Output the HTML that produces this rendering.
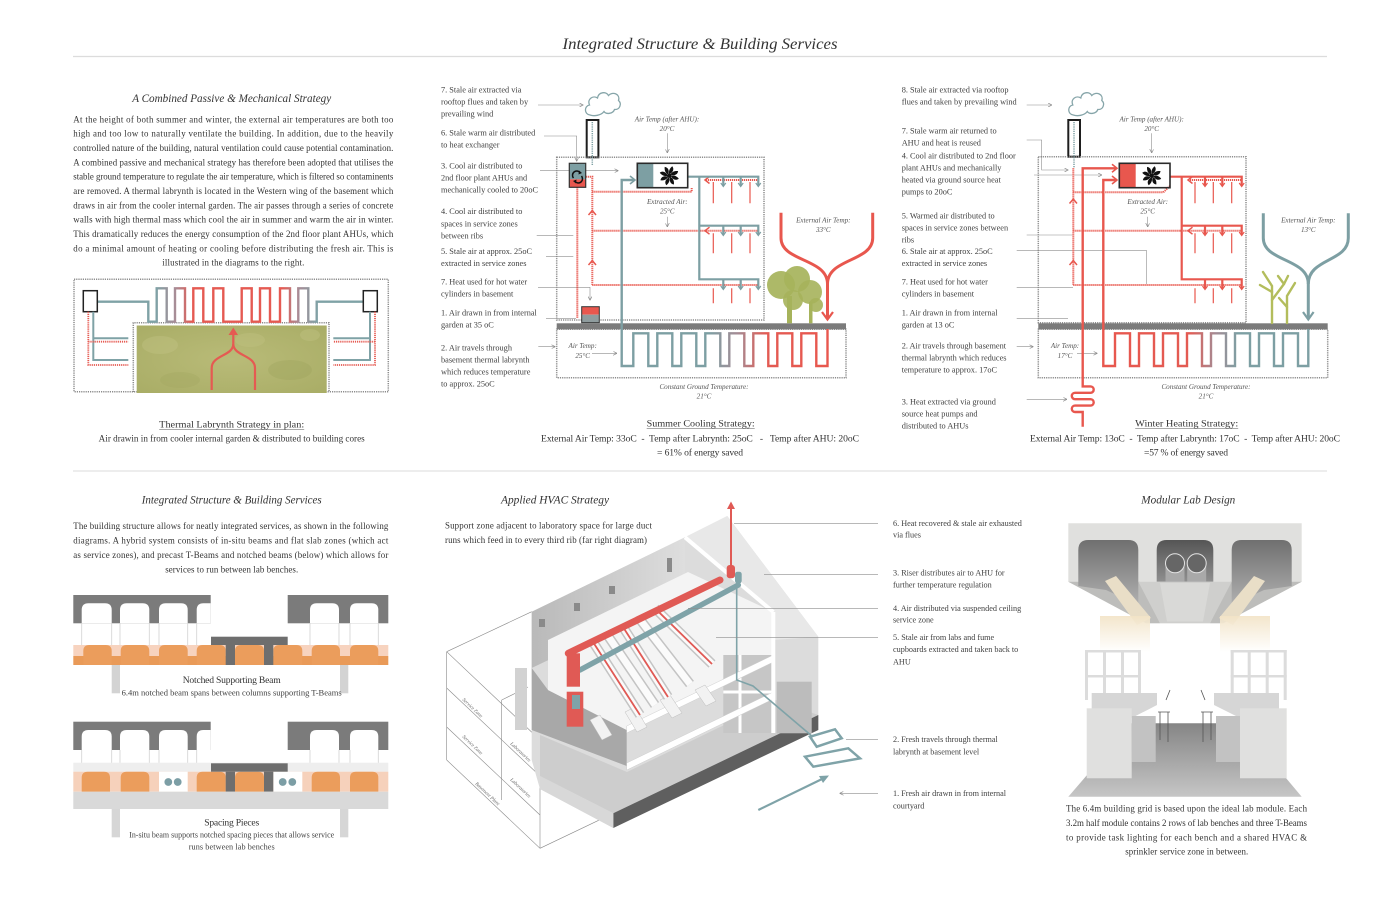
<!DOCTYPE html>
<html><head><meta charset="utf-8"><style>
html,body{margin:0;padding:0;background:#fff;}
svg{display:block;}
text{font-family:"Liberation Serif",serif;fill:#333;}
.h{font-size:11.5px;font-style:italic;fill:#333;}
.p{font-size:8.9px;}
.l{font-size:8.3px;fill:#3f3f3f;}
.t{font-size:7.1px;font-style:italic;fill:#555;}
.c{font-size:9.6px;fill:#333;}
.s{font-size:8.2px;fill:#3f3f3f;}
.w{font-size:5px;font-style:italic;fill:#666;}
</style></head><body>
<svg width="1400" height="900" viewBox="0 0 1400 900" xmlns="http://www.w3.org/2000/svg">
<defs>
<marker id="ag" viewBox="0 0 6 6" refX="5.5" refY="3" markerWidth="4" markerHeight="4" markerUnits="userSpaceOnUse" orient="auto"><path d="M0,0 L6,3 L0,6" fill="none" stroke="#888" stroke-width="1"/></marker>
<linearGradient id="gp" gradientUnits="userSpaceOnUse" x1="97" y1="0" x2="377" y2="0">
<stop offset="0" stop-color="#7fa2a6"/><stop offset="0.21" stop-color="#7fa2a6"/><stop offset="0.28" stop-color="#a88c96"/><stop offset="0.34" stop-color="#e55a52"/><stop offset="0.66" stop-color="#e55a52"/><stop offset="0.72" stop-color="#a88c96"/><stop offset="0.79" stop-color="#7fa2a6"/><stop offset="1" stop-color="#7fa2a6"/>
</linearGradient>
<linearGradient id="gs" gradientUnits="userSpaceOnUse" x1="622" y1="0" x2="828" y2="0">
<stop offset="0" stop-color="#7d9fa3"/><stop offset="0.42" stop-color="#7d9fa3"/><stop offset="0.56" stop-color="#a48c95"/><stop offset="0.7" stop-color="#e35b53"/><stop offset="1" stop-color="#e8574e"/>
</linearGradient>
<linearGradient id="gwn" gradientUnits="userSpaceOnUse" x1="1103" y1="0" x2="1308" y2="0">
<stop offset="0" stop-color="#e8574e"/><stop offset="0.42" stop-color="#e35b53"/><stop offset="0.55" stop-color="#a48c95"/><stop offset="0.66" stop-color="#7d9fa3"/><stop offset="1" stop-color="#7d9fa3"/>
</linearGradient>
<linearGradient id="gwall" x1="0" y1="0" x2="1" y2="0">
<stop offset="0" stop-color="#b9b9b9"/><stop offset="1" stop-color="#dedede"/>
</linearGradient>
<linearGradient id="garch" x1="0" y1="0" x2="0" y2="1">
<stop offset="0" stop-color="#6f6f6f"/><stop offset="1" stop-color="#b0b0b0"/>
</linearGradient>
<linearGradient id="garchc" x1="0" y1="0" x2="0" y2="1">
<stop offset="0" stop-color="#555"/><stop offset="1" stop-color="#8f8f8f"/>
</linearGradient>
<linearGradient id="gfloor" x1="0" y1="0" x2="0" y2="1">
<stop offset="0" stop-color="#858585"/><stop offset="1" stop-color="#c6c6c6"/>
</linearGradient>
<linearGradient id="gcone" x1="0" y1="0" x2="0" y2="1">
<stop offset="0" stop-color="#f2e3c6"/><stop offset="1" stop-color="#ffffff"/>
</linearGradient>
<radialGradient id="ggard" cx="0.5" cy="0.5" r="0.7">
<stop offset="0" stop-color="#b9bb78"/><stop offset="1" stop-color="#a9ad66"/>
</radialGradient>
</defs>

<!-- ===== TITLE ===== -->
<text x="700" y="49" text-anchor="middle" font-size="16" font-style="italic" fill="#444" textLength="275" lengthAdjust="spacingAndGlyphs">Integrated Structure &amp; Building Services</text>
<line x1="73" y1="56.5" x2="1327" y2="56.5" stroke="#dcdcdc" stroke-width="1.3"/>
<line x1="73" y1="471" x2="1327" y2="471" stroke="#e2e2e2" stroke-width="1.2"/>

<!-- ===== LEFT TOP TEXT ===== -->
<text class="h" x="231.7" y="102" text-anchor="middle" textLength="199" lengthAdjust="spacingAndGlyphs">A Combined Passive &amp; Mechanical Strategy</text>
<text class="p" x="73.3" y="122.3" textLength="320" lengthAdjust="spacing">At the height of both summer and winter, the external air temperatures are both too</text>
<text class="p" x="73.3" y="136.7" textLength="320" lengthAdjust="spacing">high and too low to naturally ventilate the building. In addition, due to the heavily</text>
<text class="p" x="73.3" y="151" textLength="320" lengthAdjust="spacing">controlled nature of the building, natural ventilation could cause potential contamination.</text>
<text class="p" x="73.3" y="165.3" textLength="320" lengthAdjust="spacing">A combined passive and mechanical strategy has therefore been adopted that utilises the</text>
<text class="p" x="73.3" y="179.7" textLength="320" lengthAdjust="spacing">stable ground temperature to regulate the air temperature, which is filtered so contaminents</text>
<text class="p" x="73.3" y="194" textLength="320" lengthAdjust="spacing">are removed. A thermal labrynth is located in the Western wing of the basement which</text>
<text class="p" x="73.3" y="208.3" textLength="320" lengthAdjust="spacing">draws in air from the cooler internal garden. The air passes through a series of concrete</text>
<text class="p" x="73.3" y="222.7" textLength="320" lengthAdjust="spacing">walls with high thermal mass which cool the air in summer and warm the air in winter.</text>
<text class="p" x="73.3" y="237" textLength="320" lengthAdjust="spacing">This dramatically reduces the energy consumption of the 2nd floor plant AHUs, which</text>
<text class="p" x="73.3" y="251.3" textLength="320" lengthAdjust="spacing">do a minimal amount of heating or cooling before distributing the fresh air. This is</text>
<text class="p" x="233.3" y="265.7" text-anchor="middle" textLength="142" lengthAdjust="spacing">illustrated in the diagrams to the right.</text>

<!-- ===== PLAN DIAGRAM ===== -->
<rect x="74" y="279.3" width="314.3" height="112.4" fill="none" stroke="#8c8c8c" stroke-width="1.5" stroke-dasharray="1.2 1"/>
<rect x="136.7" y="325.5" width="190" height="67.5" fill="url(#ggard)"/>
<g opacity="0.35">
<ellipse cx="160" cy="345" rx="18" ry="9" fill="#c6c789"/>
<ellipse cx="290" cy="370" rx="22" ry="10" fill="#9da35c"/>
<ellipse cx="250" cy="340" rx="15" ry="7" fill="#c4c585"/>
<ellipse cx="180" cy="380" rx="20" ry="8" fill="#a2a760"/>
<ellipse cx="310" cy="335" rx="10" ry="6" fill="#c6c789"/>
</g>
<path d="M133.3,392 V322.7 H329 V392" fill="none" stroke="#8c8c8c" stroke-width="1.5" stroke-dasharray="1.2 1"/>
<path d="M97.3,301.7 H148.3 V321.7 H156.7 V288.3 H166.7 V321.7 H175 V288.3 H185 V321.7 H193.3 V288.3 H203.3 V321.7 H213.3 V288.3 H223.3 V321.7 H241.7 V288.3 H251.7 V321.7 H260 V288.3 H270 V321.7 H280 V288.3 H290 V321.7 H298.3 V288.3 H308.3 V321.7 H316.7 V301.7 H363.3" fill="none" stroke="url(#gp)" stroke-width="2.4"/>
<rect x="83.3" y="290.7" width="14" height="21" fill="#fff" stroke="#222" stroke-width="1.5"/>
<rect x="363.3" y="290.7" width="14" height="21" fill="#fff" stroke="#222" stroke-width="1.5"/>
<g fill="none" stroke="#7fa2a6" stroke-width="2">
<path d="M93.3,311.7 V360 H128.3 M93.3,338.3 H128.3"/>
<path d="M370,311.7 V360 H333.3 M370,338.3 H333.3"/>
</g>
<g fill="none" stroke="#e55a52" stroke-width="1.8" stroke-dasharray="1.2 0.9">
<path d="M88.3,311.7 V365 H128.3 M88.3,341.7 H128.3"/>
<path d="M375,311.7 V365 H333.3 M375,341.7 H333.3"/>
</g>
<g fill="none" stroke="#e55a52" stroke-width="2.2">
<path d="M211.7,390 V368 C211.7,355 233.3,356 233.3,344 V333"/>
<path d="M255,390 V368 C255,355 233.3,356 233.3,344"/>
</g>
<path d="M228.5,335 L233.3,327.5 L238,335 Z" fill="#e55a52"/>
<text class="c" x="231.7" y="427.3" text-anchor="middle" textLength="145" lengthAdjust="spacingAndGlyphs">Thermal Labrynth Strategy in plan:</text>
<line x1="159.2" y1="429.5" x2="304.2" y2="429.5" stroke="#555" stroke-width="0.6"/>
<text class="p" x="231.7" y="441.3" text-anchor="middle" textLength="266" lengthAdjust="spacingAndGlyphs">Air drawin in from cooler internal garden &amp; distributed to building cores</text>

<!-- ===== SUMMER DIAGRAM ===== -->
<g>
<text class="l" x="441" y="92.7">7. Stale air extracted via</text>
<text class="l" x="441" y="104.7">rooftop flues and taken by</text>
<text class="l" x="441" y="116.4">prevailing wind</text>
<text class="l" x="441" y="135.4">6. Stale warm air distributed</text>
<text class="l" x="441" y="147.4">to heat exchanger</text>
<text class="l" x="441" y="168.4">3. Cool air distributed to</text>
<text class="l" x="441" y="180.4">2nd floor plant AHUs and</text>
<text class="l" x="441" y="192.4">mechanically cooled to 20oC</text>
<text class="l" x="441" y="214">4. Cool air distributed to</text>
<text class="l" x="441" y="226.4">spaces in service zones</text>
<text class="l" x="441" y="238.4">between ribs</text>
<text class="l" x="441" y="254">5. Stale air at approx. 25oC</text>
<text class="l" x="441" y="266">extracted in service zones</text>
<text class="l" x="441" y="284.7">7. Heat used for hot water</text>
<text class="l" x="441" y="296.7">cylinders in basement</text>
<text class="l" x="441" y="315.7">1. Air drawn in from internal</text>
<text class="l" x="441" y="327.7">garden at 35 oC</text>
<text class="l" x="441" y="350.4">2. Air travels through</text>
<text class="l" x="441" y="362.7">basement thermal labrynth</text>
<text class="l" x="441" y="374.7">which reduces temperature</text>
<text class="l" x="441" y="386.7">to approx. 25oC</text>
</g>
<g fill="none" stroke="#8e8e8e" stroke-width="0.6">
<path d="M538,105 H583" marker-end="url(#ag)"/>
<path d="M544,136 H576.7 V161" marker-end="url(#ag)"/>
<path d="M540,170.7 H618" marker-end="url(#ag)"/>
<path d="M536.7,235.3 H573.3"/>
<path d="M546,256.7 H573.3"/>
<path d="M538,287.3 H590 V300" marker-end="url(#ag)"/>
<path d="M546,318.3 H576"/>
<path d="M538.3,346.7 H555" marker-end="url(#ag)"/>
<path d="M667.3,133.3 V152.7" marker-end="url(#ag)"/>
<path d="M667.3,216.7 V226.7" marker-end="url(#ag)"/>
<path d="M592,353.3 H616.7" marker-end="url(#ag)"/>
</g>
<path d="M590,115 C584,114 584,106 589.5,105 C587,99 593,95 597.5,98 C598.5,92 606,91 608.5,95.5 C612.5,91 620.5,94 618.5,100.5 C622,103.5 620,110 614.5,109.5 C613,114 606,114.5 604,111.5 C601,115.5 594,116.5 590,115 Z" fill="none" stroke="#86a5a9" stroke-width="1.3"/>
<rect x="586.7" y="120" width="11.7" height="37.3" fill="#fff" stroke="#1e1e1e" stroke-width="2"/>
<rect x="556.7" y="157.3" width="207.3" height="162.7" fill="none" stroke="#8c8c8c" stroke-width="1.5" stroke-dasharray="1.2 1"/>
<rect x="556.7" y="329.3" width="289.3" height="48.4" fill="none" stroke="#8c8c8c" stroke-width="1.5" stroke-dasharray="1.2 1"/>
<rect x="556.7" y="323.3" width="289.3" height="6" fill="#7b7b7b"/>
<line x1="592.3" y1="122" x2="592.3" y2="165" stroke="#7d9fa3" stroke-width="1.5" stroke-dasharray="1.2 1"/>
<g fill="none" stroke="#e8574e" stroke-width="2" stroke-dasharray="1.2 0.8">
<path d="M577.3,187.3 V318"/>
<path d="M585.7,176.7 H592.3 V285"/>
<path d="M592.3,191.7 H691.7 V188"/>
<path d="M592.3,230.7 H758.3"/>
<path d="M592.3,285 H758.3"/>
<path d="M706,180 H758.3"/>
</g>
<g fill="none" stroke="#e8574e" stroke-width="1.5">
<path d="M709.5,176.5 L705,180 L709.5,183.5"/>
<path d="M709.5,227.2 L705,230.7 L709.5,234.2"/>
<path d="M588.5,215 L592.3,210.5 L596,215"/>
<path d="M588.5,265 L592.3,260.5 L596,265"/>
</g>
<g stroke="#e8574e" stroke-width="1.2">
<path d="M713.3,182 V203.3 M731.7,182 V203.3 M750,182 V203.3"/>
<path d="M713.3,233.3 V253.3 M731.7,233.3 V253.3 M750,233.3 V253.3"/>
<path d="M713.3,288.3 V303.3 M731.7,288.3 V303.3 M750,288.3 V303.3"/>
</g>
<g fill="none" stroke="#7d9fa3" stroke-width="2.2">
<path d="M687.7,176.7 H758.3 V186"/>
<path d="M699.3,176.7 V279.3 H758.3 V289"/>
<path d="M699.3,225.7 H758.3 V235"/>
<path d="M723.3,176.7 V186 M740.7,176.7 V186 M723.3,225.7 V235 M740.7,225.7 V235 M723.3,279.3 V289 M740.7,279.3 V289"/>
</g>
<g fill="none" stroke="#7d9fa3" stroke-width="1.2">
<path d="M720.8,183 L723.3,186.5 L725.8,183 M738.2,183 L740.7,186.5 L743.2,183 M755.8,183 L758.3,186.5 L760.8,183"/>
<path d="M720.8,232 L723.3,235.5 L725.8,232 M738.2,232 L740.7,235.5 L743.2,232 M755.8,232 L758.3,235.5 L760.8,232"/>
<path d="M720.8,286 L723.3,289.5 L725.8,286 M738.2,286 L740.7,289.5 L743.2,286 M755.8,286 L758.3,289.5 L760.8,286"/>
</g>
<rect x="569.3" y="163.3" width="16.4" height="16" fill="#7d9fa3"/>
<rect x="569.3" y="179.3" width="16.4" height="8" fill="#e8574e"/>
<rect x="569.3" y="163.3" width="16.4" height="24" fill="none" stroke="#333" stroke-width="1.2"/>
<g fill="none" stroke="#111" stroke-width="1.5">
<path d="M573.5,178 A4,4 0 0 1 580,172.5"/>
<path d="M581.5,176 A4,4 0 0 1 575,181.5"/>
</g>
<path d="M579,170.5 L582,173 L578.5,174.5 Z M576,183.5 L573,181 L576.5,179.5 Z" fill="#111"/>
<rect x="637.3" y="163.3" width="16" height="24.4" fill="#7d9fa3"/>
<rect x="637.3" y="163.3" width="50.4" height="24.4" fill="none" stroke="#2a2a2a" stroke-width="1.6"/>
<g transform="translate(669.3,175.7)" fill="#111">
<path d="M0,-1.5 C3,-3 5.5,-6 3,-9.5 C1,-8 -1.2,-5 0,-1.5Z"/>
<path d="M0,-1.5 C3,-3 5.5,-6 3,-9.5 C1,-8 -1.2,-5 0,-1.5Z" transform="rotate(45)"/>
<path d="M0,-1.5 C3,-3 5.5,-6 3,-9.5 C1,-8 -1.2,-5 0,-1.5Z" transform="rotate(90)"/>
<path d="M0,-1.5 C3,-3 5.5,-6 3,-9.5 C1,-8 -1.2,-5 0,-1.5Z" transform="rotate(135)"/>
<path d="M0,-1.5 C3,-3 5.5,-6 3,-9.5 C1,-8 -1.2,-5 0,-1.5Z" transform="rotate(180)"/>
<path d="M0,-1.5 C3,-3 5.5,-6 3,-9.5 C1,-8 -1.2,-5 0,-1.5Z" transform="rotate(225)"/>
<path d="M0,-1.5 C3,-3 5.5,-6 3,-9.5 C1,-8 -1.2,-5 0,-1.5Z" transform="rotate(270)"/>
<path d="M0,-1.5 C3,-3 5.5,-6 3,-9.5 C1,-8 -1.2,-5 0,-1.5Z" transform="rotate(315)"/>
<circle r="2.2"/>
</g>
<rect x="581.7" y="306.7" width="17.6" height="8" fill="#e8574e"/>
<rect x="581.7" y="314.7" width="17.6" height="8" fill="#8f9c9e"/>
<rect x="581.7" y="306.7" width="17.6" height="16" fill="none" stroke="#333" stroke-width="1"/>
<path d="M634,180 H621.7 V366 H633.3 V333.3 H648.3 V366 H657.3 V333.3 H672.3 V366 H681.3 V333.3 H696.3 V366 H705.3 V333.3 H720.3 V366 H729.3 V333.3 H744.3 V366 H753.3 V333.3 H768.3 V366 H777.3 V333.3 H792.3 V366 H801.3 V333.3 H816.3 V366 H827.5 V329" fill="none" stroke="url(#gs)" stroke-width="2.4"/>
<path d="M630,176 L635,180 L630,184" fill="none" stroke="#7d9fa3" stroke-width="1.6"/>
<g fill="none" stroke="#e8574e" stroke-width="3">
<path d="M781,212.7 V238 C781,262 827.5,258 827.5,284 V318"/>
<path d="M872.7,212.7 V238 C872.7,262 827.5,258 827.5,284"/>
<path d="M822,312 L827.5,319.5 L833,312" stroke-width="2.2"/>
</g>
<g fill="#a6b35b">
<rect x="787" y="296" width="5" height="27.3"/>
<rect x="809" y="302" width="3.5" height="21.3"/>
<circle cx="781" cy="285" r="14" opacity="0.92"/>
<circle cx="797" cy="279" r="13" opacity="0.92"/>
<circle cx="810" cy="292" r="12" opacity="0.9"/>
<circle cx="793" cy="300" r="10" opacity="0.9"/>
<circle cx="816" cy="305" r="7" opacity="0.9"/>
</g>
<text class="t" x="667" y="121.5" text-anchor="middle">Air Temp (after AHU):</text>
<text class="t" x="667" y="131" text-anchor="middle">20°C</text>
<text class="t" x="667.3" y="204" text-anchor="middle">Extracted Air:</text>
<text class="t" x="667.3" y="213.5" text-anchor="middle">25°C</text>
<text class="t" x="823.3" y="222.5" text-anchor="middle">External Air Temp:</text>
<text class="t" x="823.3" y="232" text-anchor="middle">33°C</text>
<text class="t" x="582.7" y="348" text-anchor="middle">Air Temp:</text>
<text class="t" x="582.7" y="358" text-anchor="middle">25°C</text>
<text class="t" x="704" y="389" text-anchor="middle">Constant Ground Temperature:</text>
<text class="t" x="704" y="398.5" text-anchor="middle">21°C</text>
<text class="c" x="700.7" y="426.3" text-anchor="middle" textLength="108" lengthAdjust="spacingAndGlyphs">Summer Cooling Strategy:</text>
<line x1="646.7" y1="428.5" x2="754.7" y2="428.5" stroke="#555" stroke-width="0.6"/>
<text class="c" x="700" y="441.3" text-anchor="middle" textLength="318" lengthAdjust="spacing" xml:space="preserve">External Air Temp: 33oC  -  Temp after Labrynth: 25oC   -   Temp after AHU: 20oC</text>
<text class="c" x="700" y="455.7" text-anchor="middle" textLength="86" lengthAdjust="spacing">= 61% of energy saved</text>

<!-- ===== WINTER DIAGRAM ===== -->
<g>
<text class="l" x="901.7" y="92.7">8. Stale air extracted via rooftop</text>
<text class="l" x="901.7" y="104.7">flues and taken by prevailing wind</text>
<text class="l" x="901.7" y="133.7">7. Stale warm air returned to</text>
<text class="l" x="901.7" y="145.7">AHU and heat is reused</text>
<text class="l" x="901.7" y="158.7">4. Cool air distributed to 2nd floor</text>
<text class="l" x="901.7" y="170.7">plant AHUs and mechanically</text>
<text class="l" x="901.7" y="182.7">heated via ground source heat</text>
<text class="l" x="901.7" y="194.7">pumps to 20oC</text>
<text class="l" x="901.7" y="218.4">5. Warmed air distributed to</text>
<text class="l" x="901.7" y="230.4">spaces in service zones between</text>
<text class="l" x="901.7" y="242.4">ribs</text>
<text class="l" x="901.7" y="254">6. Stale air at approx. 25oC</text>
<text class="l" x="901.7" y="266">extracted in service zones</text>
<text class="l" x="901.7" y="284.7">7. Heat used for hot water</text>
<text class="l" x="901.7" y="296.7">cylinders in basement</text>
<text class="l" x="901.7" y="315.7">1. Air drawn in from internal</text>
<text class="l" x="901.7" y="327.7">garden at 13 oC</text>
<text class="l" x="901.7" y="348.7">2. Air travels through basement</text>
<text class="l" x="901.7" y="360.7">thermal labrynth which reduces</text>
<text class="l" x="901.7" y="372.7">temperature to approx. 17oC</text>
<text class="l" x="901.7" y="404.4">3. Heat extracted via ground</text>
<text class="l" x="901.7" y="416.4">source heat pumps and</text>
<text class="l" x="901.7" y="428.4">distributed to AHUs</text>
</g>
<g fill="none" stroke="#8e8e8e" stroke-width="0.6">
<path d="M1026.7,105 H1051.7" marker-end="url(#ag)"/>
<path d="M1026.7,140 H1041.7 V170 H1068" marker-end="url(#ag)"/>
<path d="M1034,175 H1101.7" marker-end="url(#ag)"/>
<path d="M1026.7,235 H1073"/>
<path d="M1016.7,250.7 H1146.7 V284"/>
<path d="M1016.7,287.3 H1073"/>
<path d="M1016.7,318.3 H1068"/>
<path d="M1016.7,346.7 H1033" marker-end="url(#ag)"/>
<path d="M1026.7,399.3 H1066.7" marker-end="url(#ag)"/>
<path d="M1151.7,133.3 V152.7" marker-end="url(#ag)"/>
<path d="M1147.7,216.7 V226.7" marker-end="url(#ag)"/>
<path d="M1077,353.3 H1097" marker-end="url(#ag)"/>
</g>
<path d="M1073.3,115 C1067.3,114 1067.3,106 1072.8,105 C1070.3,99 1076.3,95 1080.8,98 C1081.8,92 1089.3,91 1091.8,95.5 C1095.8,91 1103.8,94 1101.8,100.5 C1105.3,103.5 1103.3,110 1097.8,109.5 C1096.3,114 1089.3,114.5 1087.3,111.5 C1084.3,115.5 1077.3,116.5 1073.3,115 Z" fill="none" stroke="#86a5a9" stroke-width="1.3"/>
<rect x="1068.3" y="120" width="11.7" height="36.7" fill="#fff" stroke="#1e1e1e" stroke-width="2"/>
<rect x="1038.3" y="156.7" width="207.7" height="166" fill="none" stroke="#8c8c8c" stroke-width="1.5" stroke-dasharray="1.2 1"/>
<rect x="1038.3" y="329.3" width="289.4" height="48.4" fill="none" stroke="#8c8c8c" stroke-width="1.5" stroke-dasharray="1.2 1"/>
<rect x="1038.3" y="323.3" width="289.4" height="6" fill="#7b7b7b"/>
<line x1="1074" y1="122" x2="1074" y2="168" stroke="#7d9fa3" stroke-width="1.5" stroke-dasharray="1.2 1"/>
<g fill="none" stroke="#e8574e" stroke-width="2" stroke-dasharray="1.2 0.8">
<path d="M1073.3,168.3 V285"/>
<path d="M1073.3,192.3 H1163.3 L1170,186"/>
<path d="M1073.3,230.7 H1241.7"/>
<path d="M1073.3,285 H1241.7"/>
<path d="M1188,180 H1241.7"/>
</g>
<g fill="none" stroke="#e8574e" stroke-width="1.5">
<path d="M1192.5,176.5 L1188,180 L1192.5,183.5"/>
<path d="M1192.5,227.2 L1188,230.7 L1192.5,234.2"/>
<path d="M1069.5,203.5 L1073.3,199 L1077,203.5"/>
<path d="M1069.5,265 L1073.3,260.5 L1077,265"/>
</g>
<g stroke="#e8574e" stroke-width="1.2">
<path d="M1195,182 V203.3 M1213.3,182 V203.3 M1231.7,182 V203.3"/>
<path d="M1195,233.3 V253.3 M1213.3,233.3 V253.3 M1231.7,233.3 V253.3"/>
<path d="M1195,288.3 V303.3 M1213.3,288.3 V303.3 M1231.7,288.3 V303.3"/>
</g>
<g fill="none" stroke="#e8574e" stroke-width="2.2">
<path d="M1170,176.7 H1241.7 V186"/>
<path d="M1181.7,176.7 V279.3 H1241.7 V289"/>
<path d="M1181.7,225.7 H1241.7 V235"/>
<path d="M1205,176.7 V186 M1222.3,176.7 V186 M1205,225.7 V235 M1222.3,225.7 V235 M1205,279.3 V289 M1222.3,279.3 V289"/>
</g>
<g fill="none" stroke="#e8574e" stroke-width="1.2">
<path d="M1202.5,183 L1205,186.5 L1207.5,183 M1219.8,183 L1222.3,186.5 L1224.8,183 M1239.2,183 L1241.7,186.5 L1244.2,183"/>
<path d="M1202.5,232 L1205,235.5 L1207.5,232 M1219.8,232 L1222.3,235.5 L1224.8,232 M1239.2,232 L1241.7,235.5 L1244.2,232"/>
<path d="M1202.5,286 L1205,289.5 L1207.5,286 M1219.8,286 L1222.3,289.5 L1224.8,286 M1239.2,286 L1241.7,289.5 L1244.2,286"/>
</g>
<rect x="1119.3" y="163.3" width="16.4" height="24.4" fill="#e8574e"/>
<rect x="1119.3" y="163.3" width="50.7" height="24.4" fill="none" stroke="#2a2a2a" stroke-width="1.6"/>
<g transform="translate(1151.7,175.7)" fill="#111">
<path d="M0,-1.5 C3,-3 5.5,-6 3,-9.5 C1,-8 -1.2,-5 0,-1.5Z"/>
<path d="M0,-1.5 C3,-3 5.5,-6 3,-9.5 C1,-8 -1.2,-5 0,-1.5Z" transform="rotate(45)"/>
<path d="M0,-1.5 C3,-3 5.5,-6 3,-9.5 C1,-8 -1.2,-5 0,-1.5Z" transform="rotate(90)"/>
<path d="M0,-1.5 C3,-3 5.5,-6 3,-9.5 C1,-8 -1.2,-5 0,-1.5Z" transform="rotate(135)"/>
<path d="M0,-1.5 C3,-3 5.5,-6 3,-9.5 C1,-8 -1.2,-5 0,-1.5Z" transform="rotate(180)"/>
<path d="M0,-1.5 C3,-3 5.5,-6 3,-9.5 C1,-8 -1.2,-5 0,-1.5Z" transform="rotate(225)"/>
<path d="M0,-1.5 C3,-3 5.5,-6 3,-9.5 C1,-8 -1.2,-5 0,-1.5Z" transform="rotate(270)"/>
<path d="M0,-1.5 C3,-3 5.5,-6 3,-9.5 C1,-8 -1.2,-5 0,-1.5Z" transform="rotate(315)"/>
<circle r="2.2"/>
</g>
<path d="M1082.7,426.7 V412 H1075 A3.2,3.2 0 0 1 1075,405.6 H1090.5 A3.2,3.2 0 0 0 1090.5,399.2 H1075 A3.2,3.2 0 0 1 1075,392.8 H1090.5 A3.2,3.2 0 0 0 1090.5,386.4 H1082.7 V168.3 H1116" fill="none" stroke="#e8574e" stroke-width="2.4"/>
<path d="M1112,164.3 L1117,168.3 L1112,172.3" fill="none" stroke="#e8574e" stroke-width="1.6"/>
<path d="M1117,180 H1103.3 V366 H1115 V333.3 H1130 V366 H1139 V333.3 H1154 V366 H1163 V333.3 H1178 V366 H1187 V333.3 H1202 V366 H1211 V333.3 H1226 V366 H1235 V333.3 H1250 V366 H1259 V333.3 H1274 V366 H1283 V333.3 H1298 V366 H1308.3 V329" fill="none" stroke="url(#gwn)" stroke-width="2.4"/>
<path d="M1112,176 L1117,180 L1112,184" fill="none" stroke="#e8574e" stroke-width="1.6"/>
<g fill="none" stroke="#7d9fa3" stroke-width="3">
<path d="M1263.3,213.3 V238 C1263.3,262 1308.3,258 1308.3,284 V318"/>
<path d="M1348.3,213.3 V238 C1348.3,262 1308.3,258 1308.3,284"/>
<path d="M1303,312 L1308.3,319.5 L1313.6,312" stroke-width="2.2"/>
</g>
<g fill="none" stroke="#b3bd5c" stroke-width="2.4" stroke-linecap="round">
<path d="M1272,323 V286 L1263,272"/>
<path d="M1272,300 L1284,284 L1288,276"/>
<path d="M1272,292 L1260,285"/>
<path d="M1287,323 V296 L1295,283"/>
<path d="M1287,307 L1279,298"/>
<path d="M1284,284 L1278,276"/>
</g>
<text class="t" x="1151.7" y="121.5" text-anchor="middle">Air Temp (after AHU):</text>
<text class="t" x="1151.7" y="131" text-anchor="middle">20°C</text>
<text class="t" x="1147.7" y="204" text-anchor="middle">Extracted Air:</text>
<text class="t" x="1147.7" y="213.5" text-anchor="middle">25°C</text>
<text class="t" x="1308.3" y="222.5" text-anchor="middle">External Air Temp:</text>
<text class="t" x="1308.3" y="232" text-anchor="middle">13°C</text>
<text class="t" x="1065" y="348" text-anchor="middle">Air Temp:</text>
<text class="t" x="1065" y="358" text-anchor="middle">17°C</text>
<text class="t" x="1206" y="389" text-anchor="middle">Constant Ground Temperature:</text>
<text class="t" x="1206" y="398.5" text-anchor="middle">21°C</text>
<text class="c" x="1186.7" y="426.3" text-anchor="middle" textLength="103" lengthAdjust="spacingAndGlyphs">Winter Heating Strategy:</text>
<line x1="1135.2" y1="428.5" x2="1238.2" y2="428.5" stroke="#555" stroke-width="0.6"/>
<text class="c" x="1185" y="441.3" text-anchor="middle" textLength="310" lengthAdjust="spacing" xml:space="preserve">External Air Temp: 13oC  -  Temp after Labrynth: 17oC  -  Temp after AHU: 20oC</text>
<text class="c" x="1186" y="455.7" text-anchor="middle" textLength="84" lengthAdjust="spacing">=57 % of energy saved</text>

<!-- ===== BOTTOM LEFT ===== -->
<text class="h" x="231.7" y="503.3" text-anchor="middle" textLength="180" lengthAdjust="spacingAndGlyphs">Integrated Structure &amp; Building Services</text>
<text class="p" x="73.3" y="529" textLength="315" lengthAdjust="spacing">The building structure allows for neatly integrated services, as shown in the following</text>
<text class="p" x="73.3" y="543.7" textLength="315" lengthAdjust="spacing">diagrams. A hybrid system consists of in-situ beams and flat slab zones (which act</text>
<text class="p" x="73.3" y="558" textLength="315" lengthAdjust="spacing">as service zones), and precast T-Beams and notched beams (below) which allows for</text>
<text class="p" x="231.7" y="572.3" text-anchor="middle" textLength="133" lengthAdjust="spacing">services to run between lab benches.</text>

<g>
<rect x="73.3" y="595" width="137.4" height="28.3" fill="#7b7b7b"/>
<rect x="287.7" y="595" width="100.6" height="28.3" fill="#7b7b7b"/>
<g fill="#fff">
<path d="M81.7,623.3 V610 Q81.7,603.3 88.5,603.3 H105 Q111.7,603.3 111.7,610 V623.3Z"/>
<path d="M120,623.3 V610 Q120,603.3 126.8,603.3 H142.5 Q149.3,603.3 149.3,610 V623.3Z"/>
<path d="M159,623.3 V610 Q159,603.3 165.8,603.3 H181 Q187.7,603.3 187.7,610 V623.3Z"/>
<path d="M196.7,623.3 V610 Q196.7,603.3 203.5,603.3 H210.7 V623.3Z"/>
<path d="M310,623.3 V610 Q310,603.3 316.8,603.3 H332.2 Q339,603.3 339,610 V623.3Z"/>
<path d="M350,623.3 V610 Q350,603.3 356.8,603.3 H371.5 Q378.3,603.3 378.3,610 V623.3Z"/>
</g>
<g stroke="#d2d2d2" stroke-width="0.8">
<path d="M81.7,623 V645 M111.7,623 V645 M120,623 V645 M149.3,623 V645 M159,623 V645 M187.7,623 V645 M196.7,623 V645 M310,623 V645 M339,623 V645 M350,623 V645 M378.3,623 V645"/>
</g>
<rect x="73.3" y="645" width="315" height="11" fill="#f7d3bf"/>
<rect x="73.3" y="656" width="315" height="9" fill="#e99a58"/>
<g fill="#eb9d5c">
<path d="M83.3,665 V651 Q83.3,645 89.3,645 H105.7 Q111.7,645 111.7,651 V665Z"/>
<path d="M120.7,665 V651 Q120.7,645 126.7,645 H143.3 Q149.3,645 149.3,651 V665Z"/>
<path d="M159,665 V651 Q159,645 165,645 H181.7 Q187.7,645 187.7,651 V665Z"/>
<path d="M196.7,665 V651 Q196.7,645 202.7,645 H219.7 Q225.7,645 225.7,651 V665Z"/>
<path d="M235,665 V651 Q235,645 241,645 H258 Q264,645 264,651 V665Z"/>
<path d="M273.3,665 V651 Q273.3,645 279.3,645 H296.3 Q302.3,645 302.3,651 V665Z"/>
<path d="M311.7,665 V651 Q311.7,645 317.7,645 H334 Q340,645 340,651 V665Z"/>
<path d="M350,665 V651 Q350,645 356,645 H372.3 Q378.3,645 378.3,651 V665Z"/>
</g>
<rect x="211" y="636.7" width="76.7" height="8.3" fill="#6e6e6e"/>
<rect x="225.7" y="645" width="9.3" height="20" fill="#6e6e6e"/>
<rect x="264" y="645" width="9.3" height="20" fill="#6e6e6e"/>
<rect x="111.7" y="665" width="8.3" height="28.3" fill="#d3d3d3"/>
<rect x="340" y="665" width="8.3" height="28.3" fill="#d3d3d3"/>
</g>
<text class="c" x="231.7" y="683" text-anchor="middle" textLength="98" lengthAdjust="spacing">Notched Supporting Beam</text>
<text class="s" x="231.7" y="695.3" text-anchor="middle" textLength="220" lengthAdjust="spacingAndGlyphs">6.4m notched beam spans between columns supporting T-Beams</text>

<g>
<rect x="73.3" y="721.7" width="137.4" height="28.3" fill="#7b7b7b"/>
<rect x="287.7" y="721.7" width="100.6" height="28.3" fill="#7b7b7b"/>
<g fill="#fff" transform="translate(0,126.7)">
<path d="M81.7,623.3 V610 Q81.7,603.3 88.5,603.3 H105 Q111.7,603.3 111.7,610 V623.3Z"/>
<path d="M120,623.3 V610 Q120,603.3 126.8,603.3 H142.5 Q149.3,603.3 149.3,610 V623.3Z"/>
<path d="M159,623.3 V610 Q159,603.3 165.8,603.3 H181 Q187.7,603.3 187.7,610 V623.3Z"/>
<path d="M196.7,623.3 V610 Q196.7,603.3 203.5,603.3 H210.7 V623.3Z"/>
<path d="M310,623.3 V610 Q310,603.3 316.8,603.3 H332.2 Q339,603.3 339,610 V623.3Z"/>
<path d="M350,623.3 V610 Q350,603.3 356.8,603.3 H371.5 Q378.3,603.3 378.3,610 V623.3Z"/>
</g>
<g stroke="#d2d2d2" stroke-width="0.8">
<path d="M81.7,750 V763 M111.7,750 V763 M120,750 V763 M149.3,750 V763 M159,750 V763 M187.7,750 V763 M196.7,750 V763 M310,750 V763 M339,750 V763 M350,750 V763 M378.3,750 V763"/>
</g>
<rect x="73.3" y="762.7" width="315" height="9" fill="#eeeeee"/>
<rect x="73.3" y="771.7" width="315" height="20" fill="#f6d1bb"/>
<g fill="#eb9d5c">
<path d="M81.7,791.7 V777.7 Q81.7,771.7 87.7,771.7 H104 Q110,771.7 110,777.7 V791.7Z"/>
<path d="M120.7,791.7 V777.7 Q120.7,771.7 126.7,771.7 H143.3 Q149.3,771.7 149.3,777.7 V791.7Z"/>
<path d="M196.7,791.7 V777.7 Q196.7,771.7 202.7,771.7 H219.7 Q225.7,771.7 225.7,777.7 V791.7Z"/>
<path d="M235,791.7 V777.7 Q235,771.7 241,771.7 H258 Q264,771.7 264,777.7 V791.7Z"/>
<path d="M311.7,791.7 V777.7 Q311.7,771.7 317.7,771.7 H334 Q340,771.7 340,777.7 V791.7Z"/>
<path d="M350,791.7 V777.7 Q350,771.7 356,771.7 H372.3 Q378.3,771.7 378.3,777.7 V791.7Z"/>
</g>
<rect x="159" y="771.7" width="28.7" height="20" fill="#fff"/>
<rect x="273.3" y="771.7" width="29" height="20" fill="#fff"/>
<g fill="#7c9ea5">
<circle cx="168.3" cy="782" r="3.9"/><circle cx="177.7" cy="782" r="3.9"/>
<circle cx="282.7" cy="782" r="3.9"/><circle cx="292.3" cy="782" r="3.9"/>
</g>
<rect x="211" y="763.3" width="76.7" height="8.4" fill="#6e6e6e"/>
<rect x="225.7" y="771.7" width="9.3" height="20" fill="#6e6e6e"/>
<rect x="264" y="771.7" width="9.3" height="20" fill="#6e6e6e"/>
<rect x="73.3" y="791.7" width="315" height="17.3" fill="#d9d9d9"/>
<rect x="111.7" y="809" width="8.3" height="28.3" fill="#d6d6d6"/>
<rect x="340" y="809" width="8.3" height="28.3" fill="#d6d6d6"/>
</g>
<text class="c" x="231.7" y="825.3" text-anchor="middle" textLength="55" lengthAdjust="spacing">Spacing Pieces</text>
<text class="s" x="231.7" y="837.3" text-anchor="middle" textLength="205" lengthAdjust="spacingAndGlyphs">In-situ beam supports notched spacing pieces that allows service</text>
<text class="s" x="231.7" y="849.3" text-anchor="middle" textLength="86" lengthAdjust="spacing">runs between lab benches</text>

<!-- ===== BOTTOM MIDDLE ===== -->
<text class="h" x="555" y="503.5" text-anchor="middle" textLength="108" lengthAdjust="spacingAndGlyphs">Applied HVAC Strategy</text>
<text class="p" x="445" y="528.5" textLength="207" lengthAdjust="spacing">Support zone adjacent to laboratory space for large duct</text>
<text class="p" x="445" y="543" textLength="202" lengthAdjust="spacing">runs which feed in to every third rib (far right diagram)</text>

<g fill="none" stroke="#8a8a8a" stroke-width="0.6">
<path d="M446.7,651.7 L531.7,611.7"/>
<path d="M446.7,651.7 V760"/>
<path d="M446.7,651.7 L540,740"/>
<path d="M446.7,688 L540,776"/>
<path d="M446.7,727 L540,815"/>
<path d="M446.7,760 L540,848.3"/>
<path d="M540,740 V848.3"/>
<path d="M501.7,700 V800"/>
<path d="M540,848.3 L613.3,813.3"/>
<path d="M501.7,700 L528,687"/>
</g>
<g>
<text class="w" transform="translate(462,700) rotate(43.4)">Service Zone</text>
<text class="w" transform="translate(462,737) rotate(43.4)">Service Zone</text>
<text class="w" transform="translate(475,784) rotate(43.4)">Basement Plant</text>
<text class="w" transform="translate(510,744) rotate(43.4)">Laboratories</text>
<text class="w" transform="translate(510,780) rotate(43.4)">Laboratories</text>
</g>
<polygon points="531.7,611.7 685,537.3 727.3,516 818.3,636.7 818.3,730 613.3,828 540,789 531.7,760" fill="#dcdcdc"/>
<polygon points="540,735 627,772 776,700 818.3,715 613.3,813.3 540,776" fill="#cdcdcd"/>
<polygon points="613.3,813.3 818.3,715 818.3,730 613.3,828" fill="#5f5f5f"/>
<polygon points="540,776 613.3,813.3 613.3,828 540,789" fill="#d8d8d8"/>
<polygon points="531.7,611.7 685,537.3 685,595 531.7,668" fill="url(#gwall)"/>
<polygon points="685,537.3 727.3,516 818.3,636.7 773.3,640 773.3,612" fill="#e8e8e8"/>
<polygon points="531.7,668 548,690 626.7,730 626.7,766 531.7,730" fill="#a8a8a8"/>
<polygon points="548,640 688,572 773.3,612 773.3,657 626.7,730 548,690" fill="#f4f4f4"/>
<rect x="723.3" y="655" width="50" height="78" fill="#c6c6c6"/>
<path d="M740,655 V733 M723.3,692 H773.3" stroke="#fff" stroke-width="3"/>
<rect x="776.7" y="681.7" width="35" height="51.6" fill="#bcbcbc"/>
<polygon points="626.7,726 773.3,655 773.3,662 626.7,733" fill="#fff" stroke="#cfcfcf" stroke-width="0.5"/>
<polygon points="626.7,763 773.3,692 773.3,699 626.7,770" fill="#fff" stroke="#cfcfcf" stroke-width="0.5"/>
<path d="M773.3,612 V733" stroke="#fff" stroke-width="4"/>
<path d="M685,537.3 L773.3,612" stroke="#fff" stroke-width="4"/>
<rect x="515" y="668" width="12" height="62" fill="#d2d2d2"/>
<g fill="#8a8a8a">
<rect x="539" y="619" width="6" height="8"/>
<rect x="574" y="603" width="6" height="8"/>
<rect x="609" y="586" width="6" height="8"/>
<rect x="667" y="558" width="5" height="14"/>
</g>
<g fill="#f2f2f2" stroke="#bdbdbd" stroke-width="0.5">
<polygon points="590,720 600,715 612,735 602,740"/>
<polygon points="625,712 635,707 647,727 637,732"/>
<polygon points="660,700 670,695 682,713 672,718"/>
<polygon points="695,690 705,685 716,701 706,706"/>
</g>
<g fill="none" stroke-linecap="butt">
<path d="M591.7,640 L640,715 M606,633 L655,705 M621.7,625 L668,697 M638,617 L690,684 M655,608.3 L712,664" stroke="#c4c4c4" stroke-width="10"/>
<path d="M591.7,640 L640,715 M606,633 L655,705 M621.7,625 L668,697 M638,617 L690,684 M655,608.3 L712,664" stroke="#fbfbfb" stroke-width="7"/>
<path d="M591.7,640 L640,715 M621.7,625 L668,697 M655,608.3 L712,664" stroke="#e05a55" stroke-width="1.8"/>
</g>
<path d="M568.3,653.3 L720,580" stroke="#e05a55" stroke-width="7" stroke-linecap="round"/>
<path d="M580,670 L738.3,585" stroke="#7fa3a8" stroke-width="5.5" stroke-linecap="round"/>
<rect x="566.7" y="653.3" width="13.3" height="33.4" fill="#e05a55"/>
<rect x="566.7" y="691.7" width="16.6" height="35" fill="#e05a55"/>
<rect x="572" y="695" width="8" height="14" fill="#7fa3a8"/>
<line x1="731" y1="506" x2="731" y2="568" stroke="#e05a55" stroke-width="2"/>
<path d="M727,509 L731,501.5 L735,509 Z" fill="#e05a55"/>
<rect x="726.7" y="565" width="8.3" height="13.3" rx="3" fill="#e05a55"/>
<rect x="735" y="571.7" width="6.7" height="11.6" rx="2.5" fill="#7fa3a8"/>
<g fill="none" stroke="#7fa3a8">
<path d="M736.7,581.7 V680 L753,686 L813,737" stroke-width="1.6"/>
<path d="M810,736.7 L835,729.3 L841.7,738.3 L816.7,746.7 Z" stroke-width="2.5"/>
<path d="M805,756.7 L848.3,748.3 L860,758.3 L813.3,766.7 Z" stroke-width="2.5"/>
<path d="M758.3,810 L826.7,776.7" stroke-width="2.2"/>
</g>
<path d="M819,776 L829,775.5 L823,783 Z" fill="#7fa3a8"/>
<g fill="none" stroke="#8e8e8e" stroke-width="0.6">
<path d="M878,523.3 H734"/>
<path d="M878,574.3 H764"/>
<path d="M878,608.3 H688"/>
<path d="M878,637.3 H716"/>
<path d="M878,739.3 H846"/>
<path d="M878,793.3 H840" marker-end="url(#ag)"/>
</g>
<g>
<text class="s" x="893" y="526">6. Heat recovered &amp; stale air exhausted</text>
<text class="s" x="893" y="537.7">via flues</text>
<text class="s" x="893" y="575.4">3. Riser distributes air to AHU for</text>
<text class="s" x="893" y="587.7">further temperature regulation</text>
<text class="s" x="893" y="611">4. Air distributed via suspended ceiling</text>
<text class="s" x="893" y="622.7">service zone</text>
<text class="s" x="893" y="640">5. Stale air from labs and fume</text>
<text class="s" x="893" y="652">cupboards extracted and taken back to</text>
<text class="s" x="893" y="664.4">AHU</text>
<text class="s" x="893" y="742">2. Fresh travels through thermal</text>
<text class="s" x="893" y="754.4">labrynth at basement level</text>
<text class="s" x="893" y="796">1. Fresh air drawn in from internal</text>
<text class="s" x="893" y="808.4">courtyard</text>
</g>

<!-- ===== BOTTOM RIGHT ===== -->
<text class="h" x="1188.3" y="503.3" text-anchor="middle" textLength="94" lengthAdjust="spacingAndGlyphs">Modular Lab Design</text>
<g>
<polygon points="1068.3,523.3 1301.7,523.3 1301.7,581.7 1223.3,623.3 1146,623.3 1068.3,581.7" fill="#e0e0de"/>
<polygon points="1068.3,581.7 1140,581.7 1160,623.3 1146,623.3" fill="#bdbdbb"/>
<polygon points="1230,581.7 1301.7,581.7 1223.3,623.3 1210,623.3" fill="#bdbdbb"/>
<path d="M1078.3,586 V550 Q1078.3,540 1088.3,540 H1128.3 Q1138.3,540 1138.3,550 V605 L1106,590 Z" fill="url(#garch)"/>
<path d="M1291.7,586 V550 Q1291.7,540 1281.7,540 H1241.7 Q1231.7,540 1231.7,550 V605 L1264,590 Z" fill="url(#garch)"/>
<path d="M1156.7,581.7 V550 Q1156.7,540 1166.7,540 H1203.3 Q1213.3,540 1213.3,550 V581.7 Z" fill="url(#garchc)"/>
<rect x="1165.5" y="563.3" width="19" height="18.4" fill="#a9a9a9"/>
<rect x="1187.2" y="563.3" width="19" height="18.4" fill="#a9a9a9"/>
<circle cx="1175" cy="563.3" r="9.5" fill="#666" stroke="#e4e4e4" stroke-width="1"/>
<circle cx="1196.7" cy="563.3" r="9.5" fill="#666" stroke="#e4e4e4" stroke-width="1"/>
<polygon points="1138.3,581.7 1231.7,581.7 1210,623.3 1160,623.3" fill="#cfcfcd"/>
<polygon points="1160,583 1210,583 1203,621.5 1167,621.5" fill="#d9d9d7"/>
<polygon points="1105,581 1116,576 1151,618 1137,625" fill="#e9dec7"/>
<polygon points="1265,581 1254,576 1219,618 1233,625" fill="#e9dec7"/>
<rect x="1100" y="616" width="50" height="36" fill="url(#gcone)" opacity="0.9"/>
<rect x="1220" y="616" width="50" height="36" fill="url(#gcone)" opacity="0.9"/>
<polygon points="1131.7,723.3 1240,723.3 1301.7,796.7 1068.3,796.7" fill="url(#gfloor)"/>
<g fill="#dcdcdc">
<rect x="1085" y="650" width="3" height="50"/><rect x="1103" y="650" width="3" height="50"/><rect x="1121" y="650" width="3" height="50"/><rect x="1138" y="650" width="3" height="50"/>
<rect x="1085" y="650" width="56" height="2.5"/><rect x="1085" y="675" width="56" height="2.5"/>
<rect x="1283.7" y="650" width="3" height="50"/><rect x="1265.7" y="650" width="3" height="50"/><rect x="1247.7" y="650" width="3" height="50"/><rect x="1230.7" y="650" width="3" height="50"/>
<rect x="1230.7" y="650" width="56" height="2.5"/><rect x="1230.7" y="675" width="56" height="2.5"/>
</g>
<polygon points="1091.7,693 1157,693 1157,705 1131.7,718 1091.7,718" fill="#d6d6d6"/>
<polygon points="1279,693 1214,693 1214,705 1240,718 1279,718" fill="#d6d6d6"/>
<rect x="1131.7" y="716" width="24" height="46" fill="#c2c2c2"/>
<rect x="1216" y="716" width="24" height="46" fill="#c2c2c2"/>
<rect x="1086.7" y="708.3" width="45" height="70" fill="#e0e0df"/>
<rect x="1240" y="708.3" width="46.7" height="70" fill="#e0e0df"/>
<g fill="none" stroke="#555" stroke-width="0.8">
<path d="M1158,712 H1170 M1160,712 V740 M1168,712 V742 M1166,700 L1170,690"/>
<path d="M1213,712 H1201 M1211,712 V740 M1203,712 V742 M1205,700 L1201,690"/>
</g>
</g>
<text class="p" x="1066" y="811.5" textLength="241" lengthAdjust="spacing">The 6.4m building grid is based upon the ideal lab module. Each</text>
<text class="p" x="1066" y="826" textLength="241" lengthAdjust="spacing">3.2m half module contains 2 rows of lab benches and three T-Beams</text>
<text class="p" x="1066" y="840.5" textLength="241" lengthAdjust="spacing">to provide task lighting for each bench and a shared HVAC &amp;</text>
<text class="p" x="1186.7" y="854.5" text-anchor="middle" textLength="123" lengthAdjust="spacing">sprinkler service zone in between.</text>
</svg>
</body></html>
